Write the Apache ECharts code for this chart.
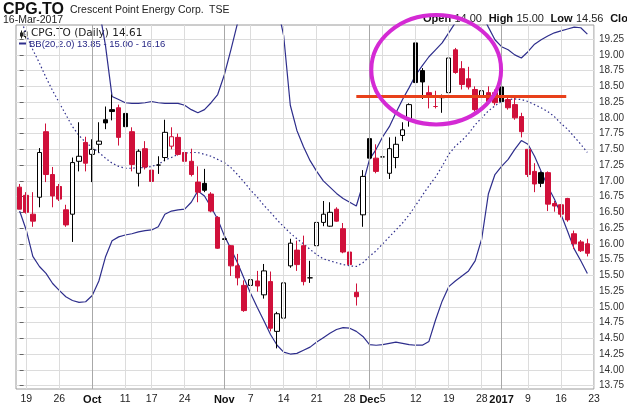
<!DOCTYPE html>
<html><head><meta charset="utf-8">
<script src="https://cdn.jsdelivr.net/npm/echarts@6/dist/echarts.min.js"></script>
<style>html,body{margin:0;padding:0;background:#fff}#c{width:627px;height:405px}</style>
</head><body><div id="c"></div>
<script>
// ---- data (trading-day index 0 = 16-Sep-2016) ----
const opens = [16.90,16.77,16.47,16.74,17.78,17.10,16.91,16.54,16.47,17.31,
17.61,17.42,17.58,17.97,18.13,18.16,18.07,17.78,17.12,17.51,
17.17,17.25,17.37,17.55,17.69,17.45,17.31,16.98,16.96,16.79,
16.42,16.08,15.97,15.65,15.34,15.34,15.41,15.19,15.40,14.61,
14.82,15.65,15.90,15.97,15.46,15.97,16.34,16.28,16.55,16.24,
15.87,15.23,16.46,17.67,17.36,17.38,17.12,17.37,17.72,17.99,
19.19,18.75,18.40,18.18,18.32,18.40,19.08,18.78,18.62,18.45,
18.34,18.40,18.40,18.49,18.29,18.21,18.02,17.50,17.15,17.13,
17.13,16.64,16.62,16.72,16.16,16.03,16.00];
const highs = [16.95,16.82,16.82,17.52,17.91,17.22,16.95,16.62,17.37,17.93,
17.70,17.66,17.93,18.18,18.37,18.21,18.07,17.85,17.50,17.63,
17.26,17.39,17.97,17.85,17.75,17.50,17.51,17.23,17.19,16.82,
16.44,16.22,15.98,15.84,15.42,15.56,15.57,15.68,15.56,14.92,
15.40,16.08,16.05,16.13,15.73,16.42,16.68,16.66,16.58,16.33,
16.01,15.37,17.17,18.23,17.58,17.63,17.69,17.70,17.93,18.23,
19.36,18.79,18.51,18.43,18.37,18.97,19.11,18.90,18.81,18.50,
18.56,18.50,18.45,18.87,18.32,18.34,18.08,17.50,17.28,17.15,
17.15,16.68,16.63,16.73,16.21,16.06,16.08];
const lows = [16.55,16.48,16.27,16.58,16.98,16.58,16.68,16.27,16.03,17.15,
17.15,16.98,17.45,17.82,17.96,17.56,17.71,17.15,16.91,17.18,
16.84,17.11,17.31,17.50,17.40,17.06,17.07,16.66,16.82,16.50,
15.92,15.78,15.49,15.34,14.92,15.26,15.24,15.13,14.61,14.34,
14.76,15.62,15.57,15.34,15.38,15.81,16.28,16.27,16.35,15.85,
15.62,15.02,16.27,17.26,17.12,17.01,17.03,17.20,17.63,17.86,
18.55,18.30,18.15,18.15,18.08,18.38,18.70,18.45,18.45,18.10,
18.16,18.24,18.20,18.12,18.13,17.97,17.69,17.06,16.82,16.90,
16.52,16.51,16.42,16.35,15.92,15.87,15.80];
const closes = [16.55,16.50,16.36,17.45,17.10,16.76,16.71,16.30,17.29,17.39,
17.28,17.50,17.63,17.92,18.10,17.69,17.86,17.26,17.47,17.22,
16.99,17.25,17.77,17.70,17.42,17.31,17.10,16.82,16.85,16.52,
15.93,16.07,15.65,15.46,14.94,15.43,15.33,15.57,14.66,14.89,
15.38,16.01,15.67,15.40,15.46,16.34,16.47,16.50,16.36,15.87,
15.67,15.16,17.07,17.36,17.15,17.38,17.51,17.58,17.81,18.21,
18.56,18.57,18.34,18.18,18.33,18.95,18.72,18.53,18.49,18.13,
18.43,18.26,18.24,18.26,18.16,18.00,17.78,17.10,16.95,16.96,
16.63,16.60,16.47,16.38,16.00,15.89,15.85];
const bbUpper = [20.3,20.3,20.3,20.25,20.2,20.15,20.1,20.05,20.0,19.95,
19.9,19.85,19.75,19.15,18.34,18.29,18.24,18.23,18.23,18.24,
18.26,18.24,18.23,18.23,18.23,18.20,18.13,18.08,18.13,18.24,
18.37,18.68,19.08,19.5,19.8,19.95,20.0,20.0,19.95,19.8,
19.3,18.2,17.8,17.54,17.32,17.15,17.0,16.9,16.8,16.72,
16.66,16.60,16.95,17.34,17.50,17.70,17.86,18.08,18.29,18.48,
18.68,18.83,18.97,19.08,19.19,19.35,19.51,19.7,19.8,19.75,
19.65,19.44,19.24,19.13,19.08,19.00,18.95,19.05,19.17,19.24,
19.30,19.35,19.38,19.41,19.44,19.43,19.33];
const bbMiddle = [19.63,19.32,19.08,18.87,18.64,18.43,18.24,18.05,17.86,17.72,
17.61,17.53,17.45,17.36,17.28,17.23,17.20,17.20,17.21,17.21,
17.23,17.26,17.33,17.37,17.42,17.44,17.45,17.45,17.42,17.39,
17.34,17.29,17.21,17.10,16.98,16.85,16.74,16.61,16.50,16.38,
16.27,16.17,16.08,16.00,15.91,15.83,15.76,15.73,15.70,15.67,
15.65,15.64,15.70,15.80,15.89,16.00,16.11,16.22,16.33,16.46,
16.61,16.77,16.92,17.06,17.23,17.42,17.55,17.64,17.75,17.89,
18.00,18.11,18.19,18.26,18.29,18.30,18.29,18.26,18.21,18.16,
18.10,18.02,17.91,17.82,17.70,17.58,17.45];
const bbLower = [16.52,16.22,15.80,15.64,15.53,15.37,15.26,15.16,15.10,15.07,
15.08,15.18,15.41,15.79,16.05,16.11,16.14,16.16,16.19,16.21,
16.22,16.27,16.47,16.52,16.54,16.55,16.66,16.84,16.76,16.58,
16.39,16.13,15.92,15.70,15.45,15.21,14.99,14.78,14.56,14.39,
14.28,14.25,14.26,14.31,14.36,14.44,14.51,14.58,14.64,14.67,
14.66,14.61,14.53,14.40,14.39,14.40,14.42,14.44,14.42,14.40,
14.39,14.39,14.45,14.79,15.09,15.32,15.41,15.49,15.57,15.73,
16.08,16.79,17.10,17.23,17.34,17.50,17.64,17.58,17.39,17.15,
16.91,16.71,16.47,16.20,15.92,15.73,15.53];
const dateLabelIdx = [1,6,11,16,20,25,31,35,40,45,50,53,55,60,65,70,73,77,82,87];
const dateLabels = ['19','26','Oct','11','17','24','Nov','7','14','21','28','Dec','5','12','19','28','2017','9','16','23'];
const monthLabels = ['Oct','Nov','Dec','2017'];
const priceTicks = [13.75,14.00,14.25,14.50,14.75,15.00,15.25,15.50,15.75,16.00,16.25,16.50,
16.75,17.00,17.25,17.50,17.75,18.00,18.25,18.50,18.75,19.00,19.25];
// annotations (in data units)
const resistance = {level: 18.35, from: 51, to: 82.8};
const circle = {cx: 63.1, cy: 18.764, rx: 9.83, ry: 0.868};

const RED = '#d0103a', BLACK = '#000000', BB = '#2e2e8c';
const candleData = closes.map((c, i) => {
  const o = opens[i];
  const prev = i > 0 ? closes[i - 1] : Infinity;
  const col = c < prev ? RED : BLACK;
  const fill = c > o ? '#ffffff' : col;
  return {value: [i, o, c, lows[i], highs[i]],
    itemStyle: {color: fill, color0: fill, borderColor: col, borderColor0: col, borderColorDoji: col}};
});
const toXY = arr => arr.map((v, i) => [i, v]);

const chart = echarts.init(document.getElementById('c'), null, {renderer: 'canvas'});
const option = {
  animation: false,
  backgroundColor: '#ffffff',
  grid: {left: 16, right: 32, top: 25, bottom: 14, show: true, borderColor: '#9a9a9a', borderWidth: 1, backgroundColor: 'transparent'},
  xAxis: {
    type: 'value', min: -0.55, max: 87,
    axisLine: {show: false}, axisTick: {show: false}, splitLine: {show: false},
    axisLabel: {
      customValues: dateLabelIdx, margin: 5, fontSize: 10.5, color: '#222',
      fontFamily: 'Liberation Sans, Arial, sans-serif',
      formatter: v => { const k = dateLabelIdx.indexOf(v); const t = k >= 0 ? dateLabels[k] : '';
        return monthLabels.includes(t) ? '{b|' + t + '}' : t; },
      rich: {b: {fontWeight: 'bold', fontSize: 11, color: '#111', fontFamily: 'Liberation Sans, Arial, sans-serif'}}
    }
  },
  yAxis: {
    type: 'value', position: 'right', min: 13.695, max: 19.474, scale: true,
    axisLine: {show: false},
    axisTick: {show: true, customValues: priceTicks, length: 4, lineStyle: {color: '#666'}},
    axisLabel: {customValues: priceTicks, formatter: v => v.toFixed(2), fontSize: 10, color: '#333', margin: 5,
      fontFamily: 'Liberation Sans, Arial, sans-serif'},
    splitLine: {show: true, lineStyle: {color: '#dcdcdc', width: 1}}
  },
  series: [
    {type: 'line', name: 'vgrid', data: [], z: 1, silent: true,
      markLine: {silent: true, symbol: ['none', 'none'], label: {show: false}, animation: false,
        data: dateLabelIdx.map((v, k) => ({xAxis: v,
          lineStyle: {type: 'solid', width: 1, color: monthLabels.includes(dateLabels[k]) ? '#a8a8a8' : '#dcdcdc'}}))}},
    {type: 'line', name: 'upper', data: toXY(bbUpper), showSymbol: false, z: 2, silent: true,
      lineStyle: {color: BB, width: 1.2}},
    {type: 'line', name: 'middle', data: toXY(bbMiddle), showSymbol: false, z: 2, silent: true,
      lineStyle: {color: BB, width: 1.2, type: [1.5, 2.5]}},
    {type: 'line', name: 'lower', data: toXY(bbLower), showSymbol: false, z: 2, silent: true,
      lineStyle: {color: BB, width: 1.2}},
    {type: 'candlestick', name: 'CPG.TO', data: candleData, z: 3, barWidth: 5,
      encode: {x: 0, y: [1, 2, 3, 4]}, itemStyle: {borderWidth: 1}},
    {type: 'line', name: 'resistance', data: [], z: 5, silent: true,
      markLine: {silent: true, symbol: ['none', 'none'], label: {show: false}, animation: false,
        lineStyle: {color: '#e8401a', width: 3, type: 'solid'},
        data: [[{coord: [resistance.from, resistance.level]}, {coord: [resistance.to, resistance.level]}]]}}
  ]
};
chart.setOption(option);

const c0 = chart.convertToPixel({gridIndex: 0}, [circle.cx, circle.cy]);
const c1 = chart.convertToPixel({gridIndex: 0}, [circle.cx + circle.rx, circle.cy - circle.ry]);
const F = 'Liberation Sans, Arial, sans-serif';
chart.setOption({graphic: [
  {type: 'text', left: 3, top: 2, style: {text: 'CPG.TO', font: 'bold 16px ' + F, fill: '#111'}},
  {type: 'text', left: 70, top: 5, style: {text: 'Crescent Point Energy Corp.', font: '10.5px ' + F, fill: '#222'}},
  {type: 'text', left: 209, top: 5, style: {text: 'TSE', font: '10.5px ' + F, fill: '#222'}},
  {type: 'text', left: 3, top: 15, style: {text: '16-Mar-2017', font: '10.5px ' + F, fill: '#222'}},
  {type: 'text', left: 423, top: 13, style: {
    rich: {b: {font: 'bold 11px ' + F, fill: '#111'}, n: {font: '11px ' + F, fill: '#222'}},
    text: '{b|Open} {n|14.00}  {b|High} {n|15.00}  {b|Low} {n|14.56}  {b|Close} {n|14.61}'}},
  {type: 'group', left: 19, top: 28, children: [
    {type: 'line', shape: {x1: 1.5, y1: 0, x2: 1.5, y2: 8}, style: {stroke: '#222', lineWidth: 1}},
    {type: 'rect', shape: {x: 0, y: 2, width: 3, height: 4}, style: {fill: '#222'}},
    {type: 'line', shape: {x1: 5.5, y1: 0, x2: 5.5, y2: 8}, style: {stroke: '#222', lineWidth: 1}},
    {type: 'rect', shape: {x: 4, y: 1, width: 3, height: 5}, style: {fill: '#fff', stroke: '#222', lineWidth: 1}}
  ]},
  {type: 'text', left: 31, top: 28, style: {text: 'CPG.TO (Daily) 14.61', font: '10.5px DejaVu Sans, sans-serif', fill: '#222'}},
  {type: 'line', shape: {x1: 19, y1: 43.5, x2: 27, y2: 43.5}, style: {stroke: BB, lineWidth: 2}},
  {type: 'text', left: 29, top: 39, style: {text: 'BB(20,2.0) 13.85 - 15.00 - 16.16', font: '9.5px ' + F, fill: '#1f1f80'}},
  {type: 'ellipse', shape: {cx: c0[0], cy: c0[1], rx: c1[0] - c0[0], ry: c1[1] - c0[1]}, z: 100,
    style: {fill: 'none', stroke: '#d42ad4', lineWidth: 4}}
]});
</script></body></html>
